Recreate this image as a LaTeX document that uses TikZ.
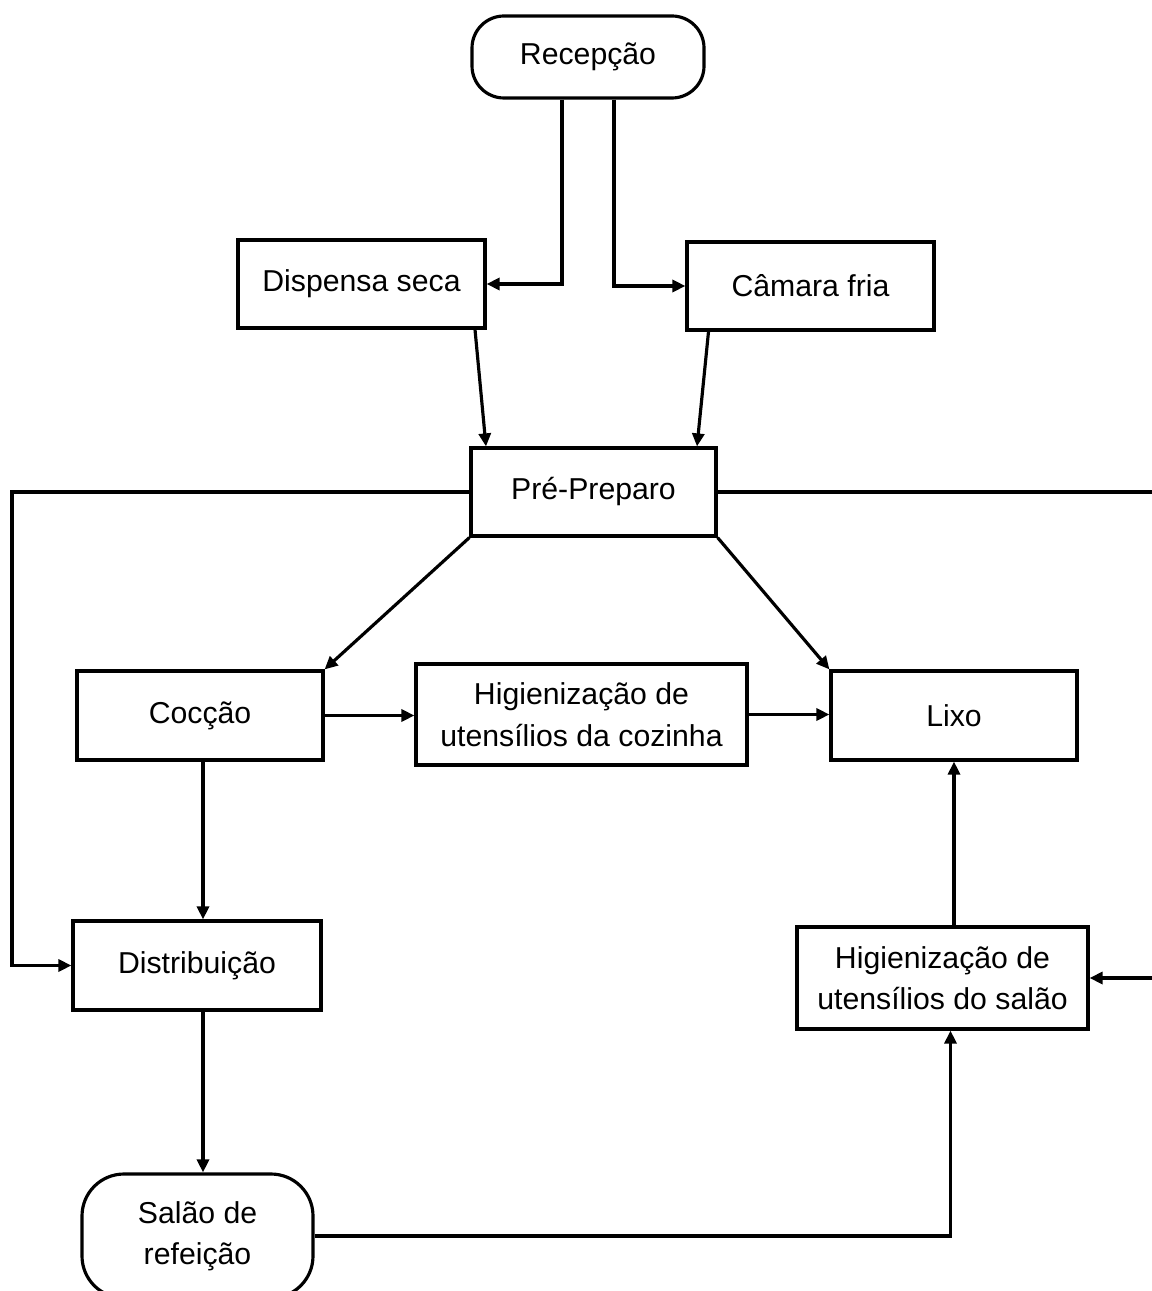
\documentclass[tikz,border=0pt]{standalone}
\usepackage{fontspec}
\setmainfont{Liberation Sans}
\usepackage{tikz}
\usetikzlibrary{arrows.meta, positioning}

\begin{document}
\begin{tikzpicture}[
    x=1cm, y=1cm,
    box/.style={rectangle, draw=black, line width=0.9pt, fill=white, inner sep=0pt,
                font=\fontsize{8.6pt}{11.8pt}\selectfont, align=center},
    terminal/.style={box, rounded corners=0.32cm},
    flow/.style={draw=black, line width=0.9pt, -{Triangle[length=1.3mm, width=1.2mm]}},
]
    \useasboundingbox (0,0) rectangle (11.51,-12.91);

    % Nodes
    \node[terminal, minimum width=2.32cm, minimum height=0.82cm] (recepcao) at (5.88,-0.57) {Recepção};
    \node[box, minimum width=2.47cm, minimum height=0.88cm] (dispensa) at (3.615,-2.84) {Dispensa seca};
    \node[box, minimum width=2.47cm, minimum height=0.88cm] (camara) at (8.105,-2.86) {Câmara fria};
    \node[box, minimum width=2.45cm, minimum height=0.88cm] (prepreparo) at (5.935,-4.92) {Pré-Preparo};
    \node[box, minimum width=2.46cm, minimum height=0.89cm] (coccao) at (2.0,-7.155) {Cocção};
    \node[box, minimum width=3.31cm, minimum height=1.01cm] (higcozinha) at (5.815,-7.145) {Higienização de\\utensílios da cozinha};
    \node[box, minimum width=2.46cm, minimum height=0.89cm] (lixo) at (9.54,-7.155) {Lixo};
    \node[box, minimum width=2.48cm, minimum height=0.89cm] (distribuicao) at (1.97,-9.655) {Distribuição};
    \node[box, minimum width=2.91cm, minimum height=1.02cm] (higsalao) at (9.425,-9.78) {Higienização de\\utensílios do salão};
    \node[terminal, rounded corners=0.42cm, minimum width=2.31cm, minimum height=1.24cm] (salao) at (1.975,-12.36) {Salão de\\refeição};

    % Return lines at the edges
    \coordinate (esq) at (0.12,0);
    \coordinate (dir) at (11.62,0);

    % Connectors
    \draw[flow] ([xshift=-0.26cm]recepcao.south) |- (dispensa.east);
    \draw[flow] ([xshift=0.26cm]recepcao.south) |- (camara.west);
    \draw[flow] ([xshift=1.135cm]dispensa.south) -- ([xshift=-1.075cm]prepreparo.north);
    \draw[flow] ([xshift=-1.02cm]camara.south) -- ([xshift=1.035cm]prepreparo.north);
    \draw[flow] (prepreparo.south west) -- (coccao.north east);
    \draw[flow] (prepreparo.south east) -- (lixo.north west);
    \draw[flow] (coccao.east) -- (coccao.east -| higcozinha.west);
    \draw[flow] (higcozinha.east) -- (higcozinha.east -| lixo.west);
    \draw[flow] ([xshift=0.03cm]coccao.south) -- ([xshift=0.03cm]coccao.south |- distribuicao.north);
    \draw[flow] ([xshift=0.06cm]distribuicao.south) -- ([xshift=0.06cm]distribuicao.south |- salao.north);
    \draw[flow] (prepreparo.west) -- (prepreparo.west -| esq) |- (distribuicao.west);
    \draw[flow] (prepreparo.east) -- (prepreparo.east -| dir) |- (higsalao.east);
    \draw[flow] (salao.east) -| ([xshift=0.08cm]higsalao.south);
    \draw[flow] (higsalao.north -| lixo.south) -- (lixo.south);
\end{tikzpicture}
\end{document}
